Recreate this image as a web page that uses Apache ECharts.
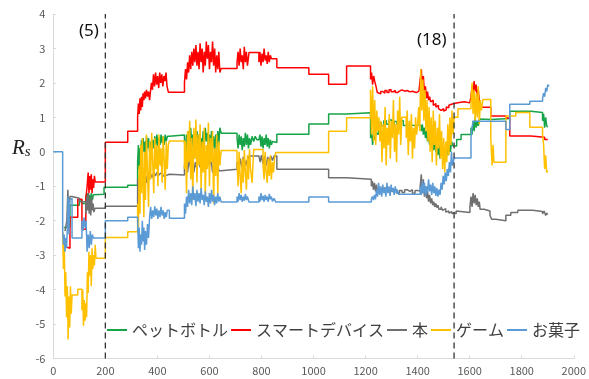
<!DOCTYPE html>
<html><head><meta charset="utf-8">
<script src="https://cdn.jsdelivr.net/npm/echarts@6/dist/echarts.min.js"></script>
<style>html,body{margin:0;padding:0;background:#fff}#c{width:589px;height:379px}</style>
</head><body><div id="c"></div>
<script>
const seriesNames = ['ペットボトル','スマートデバイス','本','ゲーム','お菓子'];
const seriesColors = ['#17A347','#FF0000','#707070','#FFC000','#5B9BD5'];

const petBottle = [[40,-2.2],[48,-2.15],[56,-2.2],[64,-1.55],[100,-1.4],[110,-1.5],[125,-1.3],[130,-1.2],[134,-1.5],[138,-1.25],[142,-1.45],[146,-1.2],[150,-1.4],[154,-1.25],[159,-1.23],[195,-1.03],[286,-0.97],
[324,-0.3],[327,0.2],[330,-0.5],[333,0.1],[336,-0.2],[339,0.35],[342,-0.1],[345,0.4],[348,0.0],[351,0.3],[354,-0.2],[358,0.45],[362,0.1],[366,0.4],[370,0.0],[374,0.3],[378,-0.1],[382,0.35],[386,0.1],[390,0.45],[394,0.2],[398,0.5],[402,0.15],[406,0.4],[410,0.2],[414,0.5],[418,0.25],[422,0.45],[426,0.2],[430,0.5],[434,0.3],[438,0.45],[446,0.49],
[504,0.3],[508,-0.1],[512,0.5],[516,0.0],[520,0.6],[524,0.1],[528,0.7],[532,0.2],[536,0.5],[540,-0.2],[544,0.4],[548,0.0],[552,0.6],[556,0.2],[560,0.5],[564,-0.1],[568,0.4],[572,0.1],[576,0.6],[580,0.2],[584,0.7],[588,0.3],[592,0.55],[596,0.1],[600,0.5],[604,0.2],[608,0.6],[612,0.15],[616,0.45],[620,0.0],[624,0.5],[628,0.1],[632,0.6],[636,0.2],[640,0.7],[645,0.54],
[706,0.4],[710,0.1],[714,0.5],[718,0.2],[722,0.45],[726,0.05],[730,0.4],[734,0.15],[738,0.55],[742,0.2],[746,0.5],[750,0.1],[754,0.4],[758,0.2],[764,0.45],[770,0.3],[776,0.45],[782,0.35],[790,0.3],[794,0.5],[798,0.15],[802,0.45],[806,0.1],[810,0.4],[814,0.2],[818,0.5],[822,0.15],[826,0.4],[830,0.1],[834,0.35],[838,0.2],[842,0.3],[846,0.27],[859,0.51],[982,0.81],[1058,1.1],[1127,1.13],
[1219,0.4],[1223,0.6],[1227,0.2],[1231,0.5],[1235,0.35],[1240,0.55],[1245,0.5],[1249,0.85],[1260,0.75],[1270,0.9],[1280,0.8],[1290,0.92],[1300,0.78],[1310,0.88],[1320,0.8],[1330,0.9],[1345,0.76],[1360,0.78],[1375,0.76],[1390,0.78],[1405,0.8],
[1410,0.75],[1414,0.6],[1418,0.8],[1422,0.5],[1426,0.7],[1430,0.4],[1434,0.6],[1438,0.3],[1442,0.5],[1446,0.2],[1450,0.4],[1454,0.15],[1458,0.35],[1462,0.05],[1466,0.3],[1470,0.0],[1474,0.25],[1478,-0.1],[1482,0.2],[1486,-0.2],[1490,0.1],[1494,-0.1],[1498,0.15],[1502,-0.2],[1506,0.05],[1510,-0.15],[1514,0.1],[1518,-0.1],[1522,0.2],[1526,0.0],[1530,0.3],[1536,0.17],[1550,0.36],[1567,0.5],
[1605,0.7],[1609,0.5],[1613,0.9],[1617,0.6],[1621,1.0],[1625,0.7],[1629,0.9],[1633,0.75],[1637,0.95],[1643,0.94],[1681,0.97],[1754,1.18],[1835,1.14],[1880,0.9],[1884,1.1],[1888,0.7],[1892,1.0],[1896,0.75],[1900,0.72]];

const smartDevice = [[45,-2.75],[50,-2.8],[64,-1.9],[80,-1.9],[94,-1.38],[110,-2.25],[125,-1.35],[130,-1.0],[134,-0.6],[137,-1.2],[140,-0.7],[143,-1.1],[146,-0.65],[149,-1.2],[152,-0.8],[155,-1.05],[158,-0.7],[161,-0.88],
[200,0.28],[286,0.6],[324,1.0],[327,1.4],[330,1.1],[333,1.55],[336,1.2],[339,1.6],[342,1.3],[345,1.7],[348,1.5],[351,1.75],[354,1.55],[358,1.8],[362,1.6],[366,1.75],[370,1.5],[374,1.8],
[377,2.0],[381,1.8],[385,2.25],[389,1.9],[393,2.3],[397,1.95],[401,2.2],[405,1.85],[409,2.3],[413,2.0],[417,2.25],[421,1.9],[425,2.2],[429,2.05],[433,2.3],[437,1.9],[442,1.73],
[504,2.0],[508,2.4],[512,2.1],[516,2.6],[520,2.3],[524,2.8],[528,2.4],[532,2.9],[536,2.5],[540,3.0],[544,2.6],[548,3.1],[552,2.5],[556,2.9],[560,2.4],[564,3.15],[568,2.6],[572,3.0],[576,2.3],[580,2.9],[584,2.5],[588,3.2],[592,2.7],[596,3.1],[600,2.4],[604,2.9],[608,2.6],[612,3.2],[616,2.5],[620,3.0],[624,2.3],[628,2.8],[632,2.4],[636,2.9],[640,2.3],[645,2.42],
[706,2.6],[710,2.9],[714,2.5],[718,3.0],[722,2.6],[726,2.8],[730,2.4],[734,3.05],[738,2.6],[742,2.9],[746,2.5],[752,2.88],[790,2.6],[794,2.9],[798,2.5],[802,2.85],[806,2.6],[810,3.0],[814,2.65],[818,2.8],[822,2.55],[826,2.9],[830,2.6],[834,2.8],[838,2.7],[848,2.7],
[859,2.44],[982,2.25],[1058,1.96],[1127,2.49],[1219,2.1],[1223,2.3],[1227,1.95],[1231,2.2],[1235,2.05],[1240,1.9],[1245,1.72],
[1249,1.68],[1258,1.75],[1266,1.7],[1274,1.78],[1282,1.72],[1290,1.8],[1298,1.74],[1306,1.78],[1314,1.72],[1322,1.76],[1330,1.8],[1340,1.76],[1350,1.78],[1360,1.74],[1370,1.76],[1380,1.72],[1395,1.76],[1405,1.8],
[1410,2.1],[1414,2.4],[1418,1.9],[1422,2.2],[1426,1.7],[1430,1.9],[1434,1.55],[1438,1.75],[1442,1.5],[1446,1.6],[1450,1.45],[1455,1.5],[1460,1.35],[1465,1.4],[1470,1.3],[1475,1.35],[1480,1.25],[1485,1.2],[1490,1.18],[1495,1.25],[1500,1.18],[1505,1.22],[1510,1.3],[1515,1.28],[1520,1.35],[1525,1.38],[1530,1.42],[1536,1.4],
[1540,1.43],[1560,1.45],[1580,1.42],[1600,1.46],[1605,1.6],[1609,1.9],[1613,1.7],[1617,2.05],[1621,1.75],[1625,1.95],[1629,1.6],[1633,1.8],[1637,1.5],[1643,1.29],[1681,1.04],[1739,0.98],[1754,0.46],[1835,0.42],[1888,0.36],[1900,0.36]];

const book = [[45,-2.3],[52,-2.0],[56,-1.1],[60,-1.9],[64,-1.3],[72,-1.35],[100,-1.45],[125,-1.8],[129,-1.3],[132,-1.7],[135,-1.2],[138,-1.8],[141,-1.4],[144,-1.85],[147,-1.3],[150,-1.7],[153,-1.5],[156,-1.75],[160,-1.64],[200,-1.58],
[324,-0.8],[328,-1.4],[332,-0.7],[336,-1.0],[340,-0.6],[344,-0.9],[348,-0.65],[352,-1.0],[356,-0.7],[360,-0.9],[365,-0.6],[370,-0.8],[375,-0.65],[380,-0.75],[386,-0.6],[392,-0.7],[398,-0.6],[405,-0.68],[412,-0.62],[420,-0.7],[430,-0.65],[446,-0.67],
[504,-0.4],[510,-0.1],[516,-0.6],[522,-0.2],[528,-0.5],[534,-0.15],[540,-0.6],[546,-0.3],[552,-0.5],[558,-0.1],[564,-0.45],[570,-0.2],[576,-0.55],[582,-0.25],[588,-0.5],[594,-0.15],[600,-0.4],[606,-0.2],[612,-0.6],[618,-0.3],[624,-0.5],[630,-0.25],[636,-0.55],[645,-0.51],
[706,-0.3],[712,-0.5],[718,-0.2],[724,-0.45],[730,-0.15],[736,-0.4],[742,-0.25],[748,-0.5],[752,-0.12],[790,-0.12],[795,-0.3],[800,-0.1],[806,-0.35],[812,-0.12],[818,-0.4],[824,-0.15],[830,-0.3],[836,-0.12],[842,-0.25],[848,-0.12],[859,-0.51],[1058,-0.75],[1127,-0.8],
[1222,-1.0],[1226,-0.85],[1230,-1.1],[1234,-0.9],[1238,-1.15],[1242,-0.95],[1246,-1.2],[1250,-1.1],[1260,-1.15],[1270,-1.05],[1280,-1.12],[1290,-1.08],[1300,-1.15],[1310,-1.1],[1320,-1.2],[1330,-1.12],[1340,-1.18],[1350,-1.1],[1360,-1.15],[1370,-1.1],[1380,-1.2],[1390,-1.12],[1400,-1.15],
[1410,-1.0],[1414,-0.65],[1418,-1.2],[1422,-0.8],[1426,-1.3],[1430,-1.0],[1434,-1.35],[1438,-1.15],[1442,-1.45],[1446,-1.25],[1450,-1.5],[1454,-1.35],[1458,-1.55],[1462,-1.45],[1466,-1.6],[1470,-1.5],[1474,-1.62],[1478,-1.55],[1482,-1.67],[1490,-1.6],[1496,-1.7],[1502,-1.65],[1508,-1.75],[1514,-1.72],[1520,-1.78],[1526,-1.74],[1532,-1.8],[1536,-1.76],[1540,-1.8],[1548,-1.72],[1555,-1.76],
[1601,-1.6],[1605,-1.3],[1609,-1.6],[1613,-1.2],[1617,-1.5],[1621,-1.25],[1625,-1.55],[1629,-1.35],[1633,-1.6],[1637,-1.45],[1640,-1.67],[1655,-1.72],[1678,-1.85],[1685,-1.96],[1700,-2.0],[1739,-1.84],[1758,-1.76],[1785,-1.7],[1842,-1.73],[1880,-1.8],[1886,-1.72],[1892,-1.85],[1896,-1.78],[1900,-1.82]];

const game = [[36,-2.33],[39,-3.4],[42,-2.6],[45,-4.2],[48,-3.5],[51,-4.8],[54,-3.9],[57,-5.45],[60,-4.2],[63,-5.1],[66,-3.9],[69,-4.7],[72,-4.16],[94,-3.99],[110,-4.6],[113,-4.0],[116,-5.05],[119,-4.3],[122,-4.9],[125,-4.4],[128,-4.8],[131,-3.5],[134,-4.1],[137,-2.9],[140,-3.6],[143,-3.0],[146,-3.9],[149,-2.8],[152,-3.4],[155,-3.0],[158,-3.3],[161,-2.7],[164,-3.09],[200,-2.49],[286,-2.32],
[324,-1.5],[327,-2.2],[330,-0.4],[333,-1.8],[336,0.2],[339,-1.2],[342,0.4],[345,-0.9],[348,-1.9],[351,0.0],[354,-1.4],[358,0.5],[362,-0.6],[366,-1.6],[370,0.3],[374,-0.8],[378,0.55],[382,-0.3],[386,-1.2],[390,0.4],[394,-0.5],[398,0.2],[402,-1.0],[406,0.5],[410,-0.4],[414,0.1],[418,-0.9],[422,0.45],[426,-0.2],[430,-1.1],[434,0.3],[438,-0.5],[442,0.2],[446,0.31],
[504,-0.5],[508,0.3],[512,-1.2],[516,0.6],[520,-0.3],[524,0.9],[528,-0.8],[532,0.4],[536,-1.4],[540,0.7],[544,-0.2],[548,0.94],[552,-0.9],[556,0.5],[560,-0.4],[564,0.8],[568,-1.1],[572,0.3],[576,-0.6],[580,0.7],[584,-1.3],[588,0.2],[592,-0.5],[596,0.85],[600,-1.0],[604,0.4],[608,-0.3],[612,0.6],[616,-1.5],[620,0.1],[624,-0.7],[628,0.5],[632,-1.2],[636,0.3],[640,-0.4],[645,0.04],
[706,-0.3],[710,-1.0],[714,0.0],[718,-0.7],[722,-1.2],[726,-0.2],[730,-0.9],[734,0.05],[738,-0.6],[742,-1.1],[746,-0.1],[750,-0.8],[754,0.07],[758,-0.5],[764,-0.9],[770,0.07],[806,-0.4],[810,-0.8],[814,0.0],[818,-0.6],[822,-0.9],[826,-0.2],[830,-0.7],[834,-0.1],[838,-0.8],[842,-0.3],[846,-0.6],[850,-0.2],[855,-0.02],[1058,0.6],[1127,0.99],
[1219,1.8],[1223,0.5],[1227,1.9],[1231,0.3],[1235,1.5],[1239,0.2],[1243,1.2],[1247,0.6],[1251,1.0],[1255,0.3],[1259,0.9],[1263,-0.3],[1267,0.8],[1271,0.1],[1275,1.3],[1279,-0.4],[1283,0.7],[1287,0.2],[1291,1.1],[1295,-0.2],[1299,0.9],[1303,0.4],[1307,1.5],[1311,0.0],[1315,0.8],[1319,-0.3],[1323,1.2],[1327,0.5],[1331,1.6],[1335,0.2],[1339,1.0],[1343,1.0],[1356,0.4],[1360,1.2],[1364,-0.1],[1368,0.9],[1372,0.3],[1376,1.1],[1380,-0.2],[1384,0.7],[1388,0.1],[1392,1.0],[1396,0.5],[1400,0.8],[1404,1.3],[1408,0.6],
[1412,2.4],[1416,1.2],[1420,2.1],[1424,0.9],[1428,1.8],[1432,0.6],[1436,1.5],[1440,0.3],[1444,1.3],[1448,0.0],[1452,1.0],[1456,-0.3],[1460,1.2],[1464,0.2],[1468,0.9],[1472,-0.4],[1476,0.7],[1480,0.1],[1484,1.1],[1488,-0.2],[1492,0.6],[1496,-0.5],[1500,0.4],[1504,-0.6],[1508,0.3],[1512,-0.3],[1516,0.8],[1520,-0.1],[1524,1.0],[1528,0.2],[1532,1.2],[1536,0.5],[1540,1.0],[1555,1.25],
[1605,1.4],[1609,2.0],[1613,1.1],[1617,1.8],[1621,0.9],[1625,1.7],[1629,1.0],[1633,1.9],[1637,0.8],[1641,1.5],[1645,1.2],[1651,1.52],[1681,0.4],[1686,-0.4],[1690,0.2],[1693,-0.3],[1739,1.04],[1777,1.14],[1831,0.71],[1880,0.5],[1884,0.2],[1888,-0.5],[1892,-0.1],[1896,-0.6],[1900,-0.55]];

const snacks = [[0,0],[36,-2.3],[39,-2.7],[42,-2.4],[45,-2.9],[48,-2.5],[51,-2.8],[54,-2.2],[57,-1.3],[60,-2.4],[63,-1.4],[66,-1.35],[72,-2.5],[110,-2.0],[114,-2.3],[118,-1.9],[122,-2.2],[126,-2.0],[130,-2.9],[134,-2.4],[138,-2.8],[142,-2.3],[146,-2.7],[150,-2.4],[154,-2.5],[200,-2.0],[286,-1.9],
[324,-2.0],[327,-2.8],[330,-2.2],[333,-2.9],[336,-2.4],[339,-2.7],[342,-2.0],[345,-2.6],[348,-2.2],[351,-2.85],[354,-2.3],[358,-2.7],[362,-2.1],[366,-2.5],[370,-1.9],[374,-1.6],[378,-1.95],[382,-1.7],[386,-1.9],[390,-1.58],[394,-1.85],[398,-1.65],[402,-1.95],[406,-1.7],[410,-1.9],[414,-1.6],[418,-1.85],[422,-1.7],[426,-1.95],[430,-1.75],[434,-1.9],[438,-1.7],[446,-1.93],
[504,-1.5],[508,-1.8],[512,-1.3],[516,-1.6],[520,-1.1],[524,-1.5],[528,-1.2],[532,-1.55],[536,-1.0],[540,-1.4],[544,-1.2],[548,-1.58],[552,-1.1],[556,-1.45],[560,-1.2],[564,-1.5],[568,-1.05],[572,-1.4],[576,-1.25],[580,-1.55],[584,-1.15],[588,-1.45],[592,-1.3],[596,-1.6],[600,-1.2],[604,-1.5],[608,-1.1],[612,-1.45],[616,-1.25],[620,-1.55],[624,-1.3],[628,-1.5],[632,-1.2],[636,-1.45],[640,-1.3],[645,-1.46],
[706,-1.3],[710,-1.45],[714,-1.2],[718,-1.4],[722,-1.25],[726,-1.45],[730,-1.3],[734,-1.42],[738,-1.22],[742,-1.4],[746,-1.3],[752,-1.46],[790,-1.3],[794,-1.45],[798,-1.2],[802,-1.4],[806,-1.28],[810,-1.45],[814,-1.25],[818,-1.4],[822,-1.3],[826,-1.45],[830,-1.22],[834,-1.38],[838,-1.3],[842,-1.44],[848,-1.35],[855,-1.46],[982,-1.31],[1058,-1.46],
[1222,-1.38],[1226,-1.3],[1230,-1.4],[1234,-1.25],[1238,-1.38],[1242,-1.1],[1246,-1.3],[1250,-0.9],[1254,-1.25],[1258,-1.0],[1262,-1.3],[1266,-0.95],[1270,-1.2],[1274,-1.05],[1278,-1.3],[1282,-0.9],[1286,-1.2],[1290,-1.0],[1294,-1.28],[1298,-0.95],[1302,-1.15],[1306,-1.05],[1310,-1.25],[1314,-1.0],[1318,-1.2],[1322,-1.1],[1326,-1.23],
[1410,-1.0],[1414,-1.25],[1418,-0.85],[1422,-1.2],[1426,-0.9],[1430,-1.28],[1434,-1.0],[1438,-1.2],[1442,-0.8],[1446,-1.15],[1450,-0.95],[1454,-1.25],[1458,-0.9],[1462,-1.2],[1466,-1.0],[1470,-1.28],[1474,-1.05],[1478,-1.3],[1482,-1.1],[1486,-1.25],[1490,-0.9],[1494,-1.1],[1498,-0.7],[1502,-0.95],[1506,-0.6],[1510,-0.85],[1514,-0.5],[1518,-0.7],[1522,-0.3],[1526,-0.6],[1530,0.0],[1534,-0.4],[1540,-0.18],
[1605,0.4],[1609,0.7],[1613,0.89],[1739,0.65],[1754,1.38],[1831,1.47],[1880,1.55],[1884,1.7],[1888,1.6],[1892,1.85],[1896,1.75],[1900,1.95],[1905,1.9]];

const allData = [petBottle, smartDevice, book, game, snacks];
const dividers = [200, 1540];

const chart = echarts.init(document.getElementById('c'), null, {renderer:'canvas'});
const lineSeries = seriesNames.map((n,i)=>({
  name:n, type:'line', step:'end', data:allData[i], showSymbol:false, symbol:'none',
  lineStyle:{width:1.5,color:seriesColors[i]}, itemStyle:{color:seriesColors[i]}, animation:false, z:2+i
}));
const divSeries = dividers.map(d=>({
  type:'line', data:[[d,-6],[d,4]], showSymbol:false, symbol:'none', silent:true,
  lineStyle:{color:'#333',width:1.3,type:[6,4]}, animation:false, z:10
}));
const font = '"Noto Sans CJK JP", "Noto Sans", sans-serif';
chart.setOption({
  animation:false,
  grid:{left:53.3, right:12.7, top:14, bottom:20.5},
  legend:{data:seriesNames, left:102, top:317, icon:'rect', itemWidth:20, itemHeight:2, itemGap:3,
    textStyle:{fontSize:16, color:'#404040', fontFamily:font}},
  xAxis:{type:'value', min:0, max:2000, interval:200,
    axisLine:{onZero:false, lineStyle:{color:'#D9D9D9'}},
    axisTick:{show:true, inside:true, length:3, lineStyle:{color:'#D9D9D9'}},
    splitLine:{show:false},
    axisLabel:{color:'#595959', fontSize:11, margin:7, fontFamily:font, formatter:v=>String(v)}},
  yAxis:{type:'value', min:-6, max:4, interval:1,
    axisLine:{show:true, onZero:false, lineStyle:{color:'#D9D9D9'}},
    axisTick:{show:true, inside:true, length:3, lineStyle:{color:'#D9D9D9'}},
    splitLine:{show:false},
    axisLabel:{color:'#595959', fontSize:11, margin:8, fontFamily:font}},
  graphic:[
    {type:'text', left:12, top:138, style:{text:'{r|R}{s|s}', rich:{r:{fontSize:21,fontStyle:'italic',fontFamily:'"Liberation Serif", serif',fill:'#222'}, s:{fontSize:15,fontStyle:'italic',fontFamily:'"Liberation Serif", serif',fill:'#222',padding:[8,0,0,0]}}}},
    {type:'text', left:79, top:23, style:{text:'(5)', fontSize:17, fill:'#111', fontFamily:'"Noto Sans", sans-serif'}},
    {type:'text', left:417, top:32, style:{text:'(18)', fontSize:17, fill:'#111', fontFamily:'"Noto Sans", sans-serif'}}
  ],
  series: lineSeries.concat(divSeries)
});
</script></body></html>
